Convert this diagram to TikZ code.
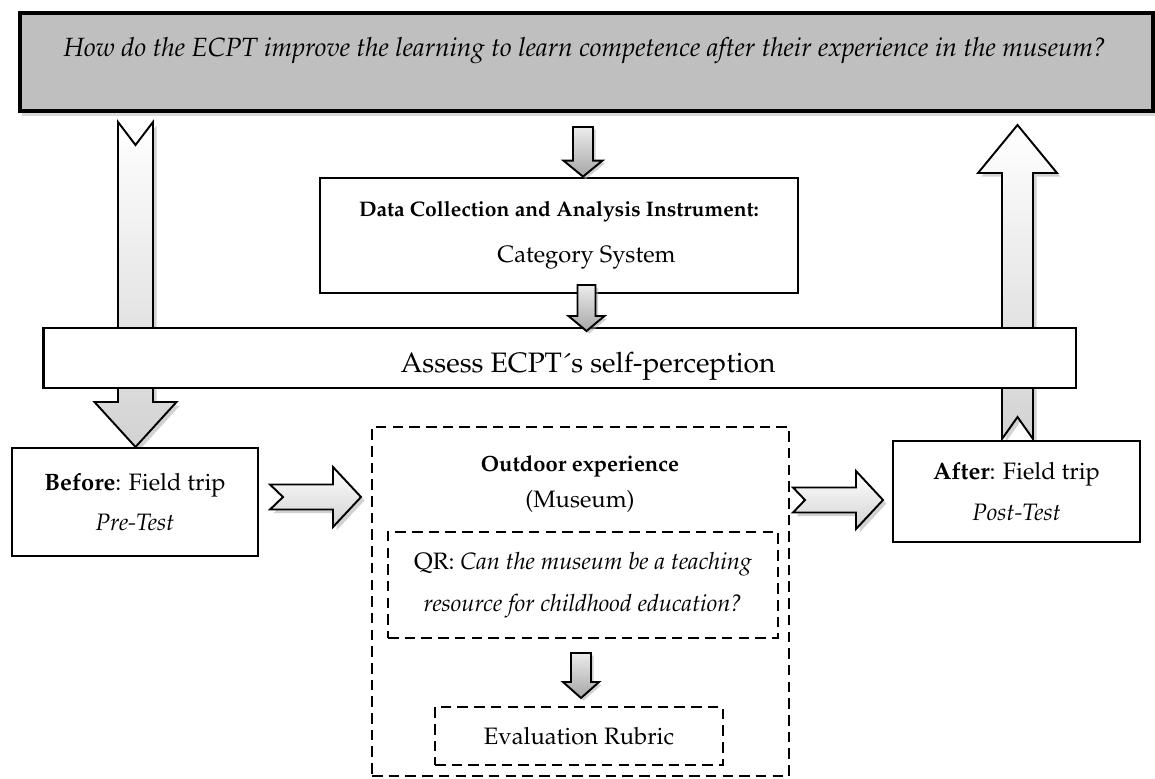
\documentclass[tikz,border=0pt]{standalone}
\usepackage[T1]{fontenc}
\usepackage{mathpazo}
\usetikzlibrary{positioning,calc,shadows}
\tikzset{font=\fontsize{13.5}{23}\selectfont}
\tikzstyle{box}=[draw,line width=1.6pt,fill=white,align=center,inner sep=2pt]
\tikzstyle{dbox}=[draw,line width=1.6pt,dash pattern=on 6pt off 3.5pt,align=center,inner sep=2pt]
\tikzstyle{bigarrow}=[draw,line width=1.1pt,line join=miter,top color=white,bottom color=gray!35,
  drop shadow={shadow xshift=2pt,shadow yshift=-2pt,fill=gray!70}]
\tikzstyle{smallarrow}=[draw,line width=1.1pt,top color=gray!15,bottom color=gray!70,
  drop shadow={shadow xshift=1.5pt,shadow yshift=-1.5pt,fill=gray!70}]
% vertical block arrow: tail, tip, half shaft, half head, head length, notch
\newcommand{\vblock}[7][]{%
  \path[#1] ($(#2)+({-#4},0)$) -- ($(#2)+(0,{#7})$) -- ($(#2)+({#4},0)$)
    -- ($(#3)+({#4},{-1*(#6)})$) -- ($(#3)+({#5},{-1*(#6)})$) -- (#3)
    -- ($(#3)+({-#5},{-1*(#6)})$) -- ($(#3)+({-#4},{-1*(#6)})$) -- cycle;}
% horizontal block arrow, pointing right
\newcommand{\hblock}[7][]{%
  \path[#1] ($(#2)+(0,{-#4})$) -- ($(#2)+({#7},0)$) -- ($(#2)+(0,{#4})$)
    -- ($(#3)+({-#6},{#4})$) -- ($(#3)+({-#6},{#5})$) -- (#3)
    -- ($(#3)+({-#6},{-#5})$) -- ($(#3)+({-#6},{-#4})$) -- cycle;}

\begin{document}
\begin{tikzpicture}[x=0.02cm,y=-0.02cm]
\useasboundingbox (0,0) rectangle (1155,778);

% question
\node[box,line width=2pt,fill=gray!50,minimum width=22.66cm,minimum height=1.96cm,
  drop shadow={shadow xshift=1pt,shadow yshift=-3pt,fill=gray!60}] (q) at (586.5,62) {};
\node[anchor=base,font=\fontsize{15}{20}\selectfont] (qtext) at (585,56)
  {\itshape How do the ECPT improve the learning to learn competence after their experience in the museum?};

% long arrows (behind the assess box)
\coordinate (lt) at (135.5,122);
\coordinate (lh) at (135.5,447);
\coordinate (rt) at (1017.5,439);
\coordinate (rh) at (1017.5,125);
\vblock[bigarrow]{lt}{lh}{17.5}{41}{45}{23}
\vblock[bigarrow]{rt}{rh}{15.5}{39.5}{-48}{-22}

\node[box,minimum width=9.56cm,minimum height=2.3cm] (data) at (559,235.5)
  {{\fontsize{12}{14}\selectfont\textbf{Data Collection and Analysis Instrument:}}\\[3pt]
   \hspace*{1.1cm}Category System};
\node[box,minimum width=20.66cm,minimum height=1.2cm] (assess) at (559.5,358) {};
\node[anchor=base,font=\fontsize{16}{20}\selectfont] (atext) at (588,372) {Assess ECPT\'{}s self-perception};
\node[box,minimum width=4.92cm,minimum height=2.16cm] (before) at (135,502)
  {\textbf{Before}: Field trip\\ \textit{Pre-Test}};
\node[box,minimum width=4.94cm,minimum height=2.02cm] (after) at (1016.5,491.5)
  {\textbf{After}: Field trip\\ \textit{Post-Test}};

% museum
\node[dbox,minimum width=8.34cm,minimum height=6.98cm] (out) at (580.5,601.5) {};
\node[align=center,font=\fontsize{13.5}{20.5}\selectfont] (otext) at (580,484)
  {{\fontsize{12.5}{14}\selectfont\textbf{Outdoor experience}}\\ (Museum)};
\node[dbox,minimum width=7.8cm,minimum height=2.12cm] (qr) at (583,585)
  {QR: \textit{Can the museum be a teaching}\\[1pt] \textit{resource for childhood education?}};
\node[dbox,minimum width=5.76cm,minimum height=1.16cm] (eval) at (579,736) {Evaluation Rubric};

% small arrows
\coordinate (d1t) at (583,127);
\coordinate (d2t) at (586.5,285);
\coordinate (d2h) at (586.5,331);
\coordinate (m1t) at (581,653);
\coordinate (m1h) at (581,698);
\vblock[smallarrow]{d1t}{d1t |- data.north}{10}{19.5}{16}{0}
\vblock[smallarrow]{d2t}{d2h}{9}{18}{15}{0}
\vblock[smallarrow]{m1t}{m1h}{10}{18}{16}{0}

% side arrows
\coordinate (h1t) at (270,497);
\coordinate (h1h) at (361,497);
\coordinate (h2t) at (793,500);
\coordinate (h2h) at (883,500);
\hblock[bigarrow]{h1t}{h1h}{12.5}{30}{28}{13}
\hblock[bigarrow]{h2t}{h2h}{12.5}{29}{27}{12}
\end{tikzpicture}
\end{document}
